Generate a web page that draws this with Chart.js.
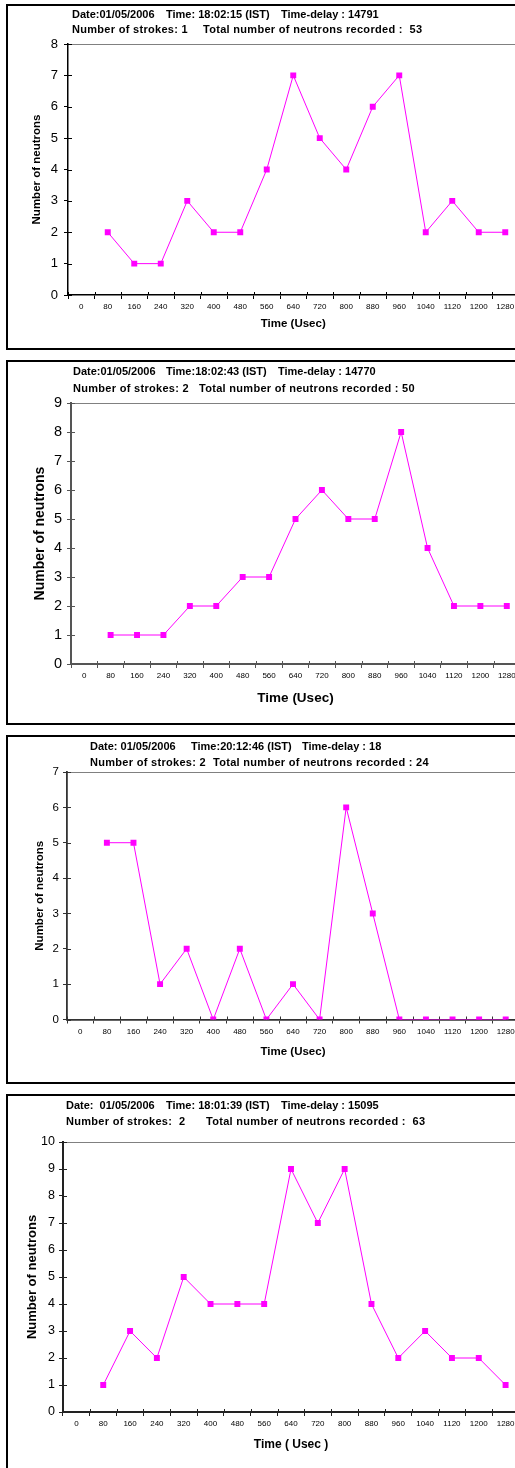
<!DOCTYPE html>
<html>
<head>
<meta charset="utf-8">
<script src="https://cdn.jsdelivr.net/npm/chart.js@4.4.0/dist/chart.umd.min.js"></script>
<style>
html,body{margin:0;padding:0;background:#fff;}
body{position:relative;width:515px;height:1468px;overflow:hidden;}
.frame{position:absolute;left:6px;width:540px;border:2px solid #000;box-sizing:border-box;}
canvas{position:absolute;left:0;}
</style>
</head>
<body>
<script>
// ---------- data ----------
const timeLabels = ['0','80','160','240','320','400','480','560','640','720','800','880','960','1040','1120','1200','1280'];
const neutrons1 = [null,2,1,1,3,2,2,4,7,5,4,6,7,2,3,2,2];
const neutrons2 = [null,1,1,1,2,2,3,3,5,6,5,5,8,4,2,2,2];
const neutrons3 = [null,5,5,1,2,0,2,0,1,0,6,3,0,0,0,0,0];
const neutrons4 = [null,1,3,2,5,4,4,4,9,7,9,4,2,3,2,2,1];
const yMaxes = [8,9,7,10];
const titles1 = [['Date:01/05/2006','Time: 18:02:15 (IST)','Time-delay : 14791'],['Number of strokes: 1','Total number of neutrons recorded :  53']];
const titles2 = [['Date:01/05/2006','Time:18:02:43 (IST)','Time-delay : 14770'],['Number of strokes: 2','Total number of neutrons recorded : 50']];
const titles3 = [['Date: 01/05/2006','Time:20:12:46 (IST)','Time-delay : 18'],['Number of strokes: 2','Total number of neutrons recorded : 24']];
const titles4 = [['Date:  01/05/2006','Time: 18:01:39 (IST)','Time-delay : 15095'],['Number of strokes:  2','Total number of neutrons recorded :  63']];
const xTitles = ['Time (Usec)','Time (Usec)','Time (Usec)','Time ( Usec )'];
const yTitle = 'Number of neutrons';

// ---------- layout / style ----------
const CW = 540;
const lineSpacing = ['0px','0.3px'];
const panels = [
  {data:neutrons1, titles:titles1, top:4, height:346, plotLeft:68, plotTop:44, plotBottom:295, plotRight:518.5,
   titleXs:[[72,166,281],[72,203]], titleY:[15,30], yFont:13, yPad:6, yTitleFont:11.5, yTitleCx:37, xFont:8, xTitleFont:11.5, xTitleCy:324,
   axisColor:'#000', axisWidth:1.5, frameH:346},
  {data:neutrons2, titles:titles2, top:360, height:365, plotLeft:71, plotTop:403, plotBottom:664, plotRight:520,
   titleXs:[[73,166,278],[73,199]], titleY:[372,389], yFont:14.5, yPad:5, yTitleFont:14, yTitleCx:40, xFont:8, xTitleFont:13.5, xTitleCy:698,
   axisColor:'#555', axisWidth:2, frameH:365},
  {data:neutrons3, titles:titles3, top:735, height:349, plotLeft:67, plotTop:772, plotBottom:1019.5, plotRight:519,
   titleXs:[[90,191,302],[90,213]], titleY:[747,763], yFont:11.5, yPad:4, yTitleFont:11.5, yTitleCx:40, xFont:8, xTitleFont:11.5, xTitleCy:1052,
   axisColor:'#333', axisWidth:1.8, frameH:349},
  {data:neutrons4, titles:titles4, top:1094, height:390, plotLeft:63, plotTop:1142, plotBottom:1412, plotRight:519,
   titleXs:[[66,166,281],[66,206]], titleY:[1106,1122], yFont:12.5, yPad:4, yTitleFont:13, yTitleCx:32, xFont:8, xTitleFont:12, xTitleCy:1445,
   axisColor:'#222', axisWidth:2, frameH:400}
];

Chart.defaults.font.family = '"Liberation Sans", Arial, sans-serif';
Chart.defaults.color = '#000';

const decor = {
  id:'decor',
  beforeDatasetsDraw(chart, args, o){
    const ctx = chart.ctx, a = chart.chartArea;
    ctx.save();
    ctx.strokeStyle = '#808080'; ctx.lineWidth = 1;
    ctx.beginPath();
    ctx.moveTo(a.left, a.top + 0.5); ctx.lineTo(a.right, a.top + 0.5); ctx.lineTo(a.right - 0.5, a.bottom);
    ctx.stroke();
    ctx.strokeStyle = o.color; ctx.lineWidth = 1;
    const ys = chart.scales.y, xs = chart.scales.x;
    ctx.beginPath();
    ys.ticks.forEach(t => { const y = Math.round(ys.getPixelForValue(t.value)) + 0.5; ctx.moveTo(a.left, y); ctx.lineTo(a.left + 4, y); });
    for (let i = 0; i <= timeLabels.length; i++) {
      const x = Math.round(xs.getPixelForValue(i - 0.5)) + 0.5;
      ctx.moveTo(x, a.bottom); ctx.lineTo(x, a.bottom - 3);
    }
    ctx.stroke();
    ctx.restore();
  },
  afterDraw(chart, args, o){
    const ctx = chart.ctx;
    ctx.save();
    ctx.fillStyle = '#000';
    ctx.font = 'bold 11px "Liberation Sans", Arial, sans-serif';
    ctx.textBaseline = 'middle'; ctx.textAlign = 'left';
    o.lines.forEach((segs, i) => {
      if ('letterSpacing' in ctx) ctx.letterSpacing = lineSpacing[i];
      segs.forEach((s, j) => ctx.fillText(s, o.xs[i][j], o.ys[i]));
    });
    ctx.restore();
  }
};

panels.forEach((p, idx) => {
  const fr = document.createElement('div');
  fr.className = 'frame';
  fr.style.top = p.top + 'px';
  fr.style.height = p.frameH + 'px';
  document.body.appendChild(fr);

  const cv = document.createElement('canvas');
  cv.width = CW; cv.height = p.height;
  cv.style.top = p.top + 'px';
  cv.style.width = CW + 'px'; cv.style.height = p.height + 'px';
  document.body.appendChild(cv);

  const xAxisH = p.height - (p.plotBottom - p.top);
  new Chart(cv, {
    type:'line',
    data:{
      labels: timeLabels,
      datasets:[{
        data: p.data,
        borderColor:'#FF00FF', backgroundColor:'#FF00FF',
        borderWidth:1, pointStyle:'rect', pointRadius:4.2, pointBorderWidth:0,
        tension:0, fill:false
      }]
    },
    options:{
      responsive:false, animation:false, devicePixelRatio:1,
      layout:{padding:{left:0, top:p.plotTop - p.top, right:CW - p.plotRight, bottom:0}},
      plugins:{
        legend:{display:false}, title:{display:false}, tooltip:{enabled:false},
        decor:{color:p.axisColor, lines:p.titles, xs:p.titleXs, ys:p.titleY.map(v => v - p.top)}
      },
      scales:{
        x:{
          type:'category', offset:true,
          grid:{offset:true, drawOnChartArea:false, drawTicks:true, tickLength:4, color:p.axisColor, lineWidth:1},
          border:{color:p.axisColor, width:p.axisWidth},
          ticks:{autoSkip:false, maxRotation:0, minRotation:0, padding:3, font:{size:p.xFont}, color:'#000'},
          title:{display:true, text:xTitles[idx], font:{size:p.xTitleFont, weight:'bold'}, color:'#000',
                 padding:{top:0, bottom: xAxisH - (p.xTitleCy - p.plotBottom) - 0.6 * p.xTitleFont}},
          afterFit: s => { s.height = xAxisH; }
        },
        y:{
          min:0, max:yMaxes[idx],
          grid:{drawOnChartArea:false, drawTicks:true, tickLength:4, color:p.axisColor, lineWidth:1},
          border:{color:p.axisColor, width:p.axisWidth},
          ticks:{stepSize:1, padding:p.yPad, font:{size:p.yFont}, color:'#000'},
          title:{display:true, text:yTitle, font:{size:p.yTitleFont, weight:'bold'}, color:'#000',
                 padding:{top: p.yTitleCx - 0.6 * p.yTitleFont, bottom:0}},
          afterFit: s => { s.width = p.plotLeft; }
        }
      }
    },
    plugins:[decor]
  });
});
</script>
</body>
</html>
